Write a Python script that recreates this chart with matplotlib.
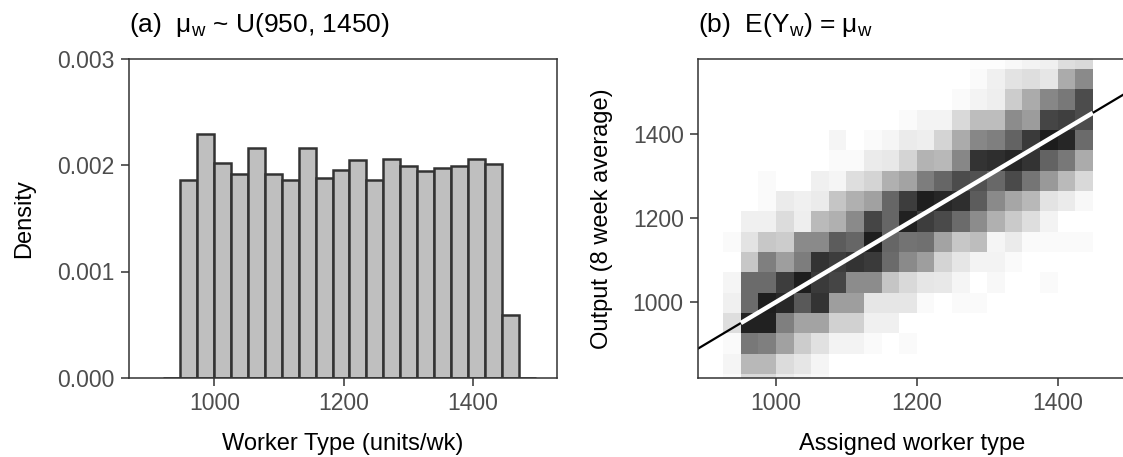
import numpy as np
import matplotlib
matplotlib.use("Agg")
import matplotlib.pyplot as plt
from matplotlib.colors import LinearSegmentedColormap

plt.rcParams['font.family'] = ['Liberation Sans', 'DejaVu Sans']
plt.rcParams['mathtext.fontset'] = 'custom'
plt.rcParams['mathtext.rm'] = 'Liberation Sans'
plt.rcParams['mathtext.it'] = 'Liberation Sans:italic'

# Panel (a): histogram of worker types (density, x 1e-3), first/last bins empty
hist_start = 921.0
hist_binwidth = 26.2
hist_density = [0.0, 1.86, 2.29, 2.02, 1.92, 2.16, 1.92, 1.86, 2.16, 1.88, 1.95,
                2.05, 1.86, 2.06, 1.99, 1.94, 1.97, 1.99, 2.06, 2.01, 0.59, 0.0]

# Panel (b): 2d bin counts, rows from bottom (y) and columns from left (x)
bin_x_start, bin_x_width = 925.0, 25.0
bin_y_start, bin_y_width = 780.4, 48.35
bin_counts = [
    [2, 15, 15, 8, 5, 3, 0, 0, 0, 0, 0, 0, 0, 0, 0, 0, 0, 0, 0, 0, 0],
    [4, 28, 28, 14, 10, 4, 0, 0, 0, 0, 0, 0, 0, 0, 0, 0, 0, 0, 0, 0, 0],
    [2, 53, 50, 37, 20, 12, 5, 5, 2, 0, 2, 0, 0, 0, 0, 0, 0, 0, 0, 0, 0],
    [13, 87, 87, 50, 36, 36, 18, 18, 6, 6, 0, 0, 0, 0, 0, 0, 0, 0, 0, 0, 0],
    [6, 58, 88, 84, 65, 80, 38, 38, 10, 10, 10, 2, 0, 2, 2, 0, 0, 0, 0, 0, 0],
    [4, 58, 58, 76, 88, 77, 73, 45, 45, 23, 15, 10, 9, 4, 0, 3, 0, 0, 2, 0, 0],
    [0, 22, 50, 38, 51, 80, 76, 80, 77, 58, 46, 38, 17, 10, 5, 5, 2, 0, 0, 0, 0],
    [2, 11, 22, 20, 46, 46, 64, 60, 88, 60, 55, 56, 36, 22, 26, 4, 8, 2, 2, 2, 2],
    [0, 6, 6, 14, 7, 27, 31, 46, 73, 60, 87, 76, 71, 58, 45, 31, 21, 13, 5, 0, 0],
    [0, 0, 2, 8, 6, 8, 23, 31, 37, 60, 76, 88, 85, 82, 64, 46, 35, 28, 11, 8, 3],
    [0, 0, 2, 0, 0, 6, 4, 13, 17, 31, 36, 51, 60, 70, 68, 59, 71, 54, 40, 27, 15],
    [0, 0, 0, 0, 0, 0, 2, 2, 8, 9, 17, 30, 28, 47, 80, 82, 85, 80, 61, 53, 33],
    [0, 0, 0, 0, 0, 0, 4, 0, 2, 4, 8, 7, 17, 33, 47, 50, 61, 77, 89, 85, 58],
    [0, 0, 0, 0, 0, 0, 0, 0, 0, 0, 2, 5, 5, 15, 26, 26, 45, 39, 73, 75, 70],
    [0, 0, 0, 0, 0, 0, 0, 0, 0, 0, 0, 0, 0, 2, 5, 7, 20, 33, 47, 53, 70],
    [0, 0, 0, 0, 0, 0, 0, 0, 0, 0, 0, 0, 0, 0, 2, 6, 11, 13, 10, 33, 46],
    [0, 0, 0, 0, 0, 0, 0, 0, 0, 0, 0, 0, 0, 0, 1, 1, 3, 5, 6, 13, 15],
]
mu_range = [950, 1450]

DARK = '#333333'
TICK_TXT = '#4d4d4d'


def style_axes(ax):
    for side in ['left', 'right', 'top', 'bottom']:
        ax.spines[side].set_color(DARK)
        ax.spines[side].set_linewidth(1.1)
    ax.tick_params(direction='out', length=5.5, width=1.1, color=DARK,
                   labelcolor=TICK_TXT, labelsize=16.5)
    ax.tick_params(axis='x', pad=4.5)
    ax.tick_params(axis='y', pad=5)


fig = plt.figure(figsize=(11.23, 4.57), dpi=100)
ax1 = fig.add_axes([129.3 / 1123, 79 / 457, 427.4 / 1123, 319.5 / 457])
ax2 = fig.add_axes([698.3 / 1123, 79 / 457, 427.4 / 1123, 319.5 / 457])

# (a) histogram
dens = np.array(hist_density) * 1e-3
left_edges = hist_start + hist_binwidth * np.arange(len(dens))
ax1.bar(left_edges, dens, width=hist_binwidth, align='edge',
        color='#bfbfbf', edgecolor=DARK, linewidth=1.8)
ax1.set_xlim(868.4, 1530)
ax1.set_ylim(0, 0.003)
ax1.set_xticks([1000, 1200, 1400])
ax1.set_yticks([0, 0.001, 0.002, 0.003])
ax1.set_yticklabels(['0.000', '0.001', '0.002', '0.003'])
ax1.set_xlabel('Worker Type (units/wk)', fontsize=17, labelpad=13)
ax1.set_ylabel('Density', fontsize=17, labelpad=16)
ax1.set_title('(a)  μ$_\\mathrm{w}$ ~ U(950, 1450)', loc='left', fontsize=19, pad=19)
style_axes(ax1)

# (b) binned heatmap
counts = np.ma.masked_equal(np.array(bin_counts, dtype=float), 0)
nrow, ncol = counts.shape
x_edges = bin_x_start + bin_x_width * np.arange(ncol + 1)
y_edges = bin_y_start + bin_y_width * np.arange(nrow + 1)
greys = LinearSegmentedColormap.from_list('greys', ['white', 'black'])
ax2.pcolormesh(x_edges, y_edges, counts, cmap=greys, vmin=0, vmax=100,
               shading='flat', antialiased=False, linewidth=0)
ax2.axline((1000, 1000), slope=1, color='black', linewidth=1.6)
ax2.plot(mu_range, mu_range, color='white', linewidth=3.2, solid_capstyle='butt')
ax2.set_xlim(889.6, 1496.7)
ax2.set_ylim(819.3, 1579.3)
ax2.set_xticks([1000, 1200, 1400])
ax2.set_yticks([1000, 1200, 1400])
ax2.set_xlabel('Assigned worker type', fontsize=17, labelpad=13)
ax2.set_ylabel('Output (8 week average)', fontsize=17, labelpad=14)
ax2.set_title('(b)  E(Y$_\\mathrm{w}$) = μ$_\\mathrm{w}$', loc='left', fontsize=19, pad=19)
style_axes(ax2)

fig.savefig('out.png', dpi=100)
